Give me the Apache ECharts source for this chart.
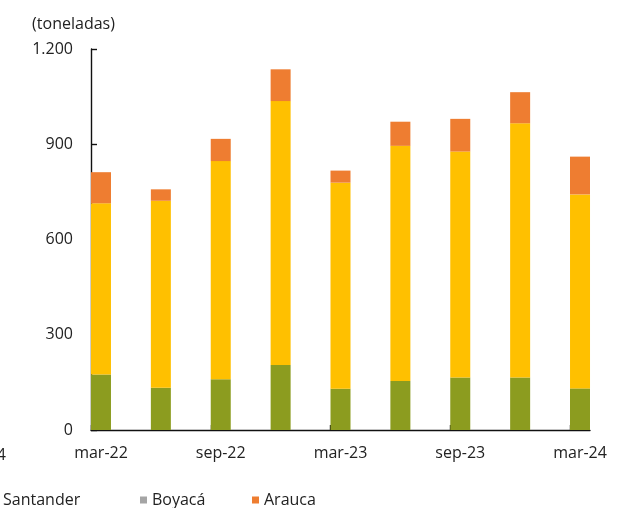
<!DOCTYPE html>
<html>
<head>
<meta charset="utf-8">
<script src="https://cdn.jsdelivr.net/npm/echarts@6/dist/echarts.min.js"></script>
<style>
  html, body { margin: 0; padding: 0; background: #fff; }
  #chart { width: 618px; height: 508px; }
</style>
</head>
<body>
<div id="chart"></div>
<script>
// Quarterly output by department, stacked (tonnes)
const quarters = ['mar-22', 'jun-22', 'sep-22', 'dic-22', 'mar-23', 'jun-23', 'sep-23', 'dic-23', 'mar-24'];
const norteSantander = [175, 133, 160, 205, 130, 154, 165, 165, 131];
const santander = [539, 589, 687, 831, 649, 741, 712, 801, 611];
const boyaca = [0, 0, 0, 0, 0, 0, 0, 0, 0];
const arauca = [98, 36, 70, 100, 38, 76, 103, 98, 119];
const yTicks = [0, 300, 600, 900, 1200];

const FONT = 'Open Sans';
const TEXT = '#222';
const FS = 16;

// bars sit on a numeric x scale (one unit per quarter); the value comes first
// in each row so it is the dimension that gets stacked
const rows = arr => arr.map((v, i) => [v, i]);
const halfBar = 1 / 6;
const tickPos = [0, 2, 4, 6, 8].map(i => i - halfBar);
const labelPos = [0, 2, 4, 6, 8];

const fmtThousands = v => String(v).replace(/\B(?=(\d{3})+(?!\d))/g, '.');

const chart = echarts.init(document.getElementById('chart'), null, { renderer: 'canvas' });

const barSeries = (name, data, color) => ({
  name, type: 'bar', stack: 'total', barWidth: 20,
  data: rows(data),
  encode: { x: 1, y: 0 },
  itemStyle: { color },
  emphasis: { disabled: true }
});

const legendItem = (name, left) => ({
  data: [name], left, top: 492, padding: 0, orient: 'horizontal',
  icon: 'rect', itemWidth: 7, itemHeight: 7,
  textStyle: { fontFamily: FONT, fontSize: FS, color: TEXT },
  selectedMode: false
});

chart.setOption({
  animation: false,
  backgroundColor: '#fff',
  grid: { left: 91, right: 28, top: 49, bottom: 78, containLabel: false },
  xAxis: {
    type: 'value',
    min: -halfBar,
    max: quarters.length - 1 + halfBar,
    splitLine: { show: false },
    axisLine: { show: true, onZero: false, lineStyle: { color: '#111', width: 1.4 } },
    axisTick: { show: true, inside: true, length: 5, customValues: tickPos, lineStyle: { color: '#111', width: 1.4 } },
    axisLabel: {
      customValues: labelPos,
      formatter: v => quarters[Math.round(v)] || '',
      margin: 15,
      fontFamily: FONT, fontSize: FS, color: TEXT
    }
  },
  yAxis: {
    type: 'value',
    min: 0, max: 1200, interval: 300,
    name: '(toneladas)',
    nameLocation: 'end',
    nameGap: 17,
    nameTextStyle: { fontFamily: FONT, fontSize: FS, color: TEXT, align: 'center', padding: [0, 35, 0, 0] },
    splitLine: { show: false },
    axisLine: { show: true, onZero: false, lineStyle: { color: '#111', width: 1.4 } },
    axisTick: { show: true, inside: true, length: 6, lineStyle: { color: '#111', width: 1.4 } },
    axisLabel: {
      margin: 18,
      formatter: v => fmtThousands(v),
      fontFamily: FONT, fontSize: FS, color: TEXT
    }
  },
  legend: [
    legendItem('Santander', -9),
    legendItem('Boyacá', 140),
    legendItem('Arauca', 252)
  ],
  graphic: [{
    type: 'text', right: 612, top: 447,
    style: { text: 'mar-24', font: FS + 'px "Open Sans"', fill: TEXT }
  }],
  series: [
    barSeries('Norte de Santander', norteSantander, '#8C9C1F'),
    barSeries('Santander', santander, '#FFC000'),
    barSeries('Boyacá', boyaca, '#A5A5A5'),
    barSeries('Arauca', arauca, '#EE7D31')
  ]
});
</script>
</body>
</html>
